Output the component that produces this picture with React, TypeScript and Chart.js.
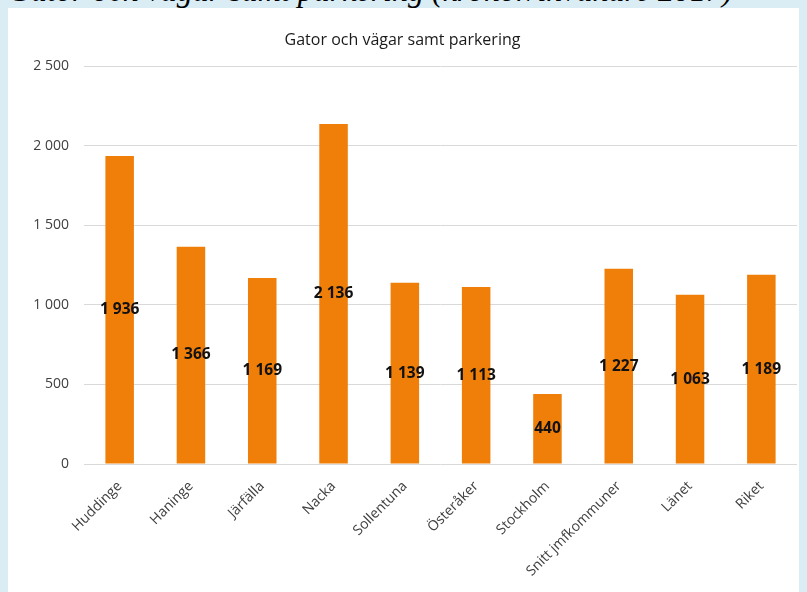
import React, { useEffect, useRef } from "react";
import { Chart, registerables } from "chart.js";

Chart.register(...registerables);

const categories = [
  "Huddinge",
  "Haninge",
  "Järfälla",
  "Nacka",
  "Sollentuna",
  "Österåker",
  "Stockholm",
  "Snitt jmfkommuner",
  "Länet",
  "Riket",
];
const values = [1936, 1366, 1169, 2136, 1139, 1113, 440, 1227, 1063, 1189];
const yTicks = [0, 500, 1000, 1500, 2000, 2500];
const chartTitle = "Gator och vägar samt parkering";
const headingText = "Gator och vägar samt parkering (kronor/invånare 2017)";

const fmt = (n: number) => String(n).replace(/\B(?=(\d{3})+(?!\d))/g, " ");

const FONT = "'Open Sans', 'Noto Sans', sans-serif";

const centerLabels = {
  id: "centerLabels",
  afterDatasetsDraw(chart: any) {
    const ctx = chart.ctx;
    const meta = chart.getDatasetMeta(0);
    ctx.save();
    ctx.font = `bold 15.5px ${FONT}`;
    ctx.fillStyle = "#111111";
    ctx.textAlign = "center";
    ctx.textBaseline = "middle";
    meta.data.forEach((bar: any, i: number) => {
      const { x, y, base } = bar.getProps(["x", "y", "base"], true);
      ctx.fillText(fmt(values[i]), x, (y + base) / 2);
    });
    ctx.restore();
  },
};

export default function App() {
  const ref = useRef<HTMLCanvasElement>(null);

  useEffect(() => {
    if (!ref.current) return;
    const chart = new Chart(ref.current, {
      type: "bar",
      data: {
        labels: categories,
        datasets: [
          {
            data: values,
            backgroundColor: "#F07F09",
            borderWidth: 0,
            barPercentage: 0.5,
            categoryPercentage: 0.8,
          },
        ],
      },
      options: {
        animation: false,
        responsive: false,
        devicePixelRatio: 1,
        layout: { padding: { left: 0, right: 2, top: 0, bottom: 0 } },
        plugins: {
          legend: { display: false },
          tooltip: { enabled: false },
          title: {
            display: true,
            text: chartTitle,
            color: "#1a1a1a",
            font: { family: FONT, size: 16, weight: "normal" },
            padding: { top: 23, bottom: 16 },
          },
        },
        scales: {
          x: {
            grid: { display: false },
            border: { display: false },
            ticks: {
              color: "#404040",
              font: { family: FONT, size: 14 },
              minRotation: 45,
              maxRotation: 45,
              padding: 6,
              autoSkip: false,
            },
            afterFit: (s: any) => {
              s.height = 128;
            },
          },
          y: {
            min: 0,
            max: 2500,
            afterBuildTicks: (s: any) => {
              s.ticks = yTicks.map((v) => ({ value: v }));
            },
            grid: { color: "#d9d9d9", drawTicks: false, lineWidth: 1 },
            border: { display: false },
            ticks: {
              color: "#404040",
              font: { family: FONT, size: 14 },
              padding: 15,
              callback: (v: any) => fmt(Number(v)),
            },
            afterFit: (s: any) => {
              s.width = 76;
            },
          },
        },
      },
      plugins: [centerLabels],
    });
    return () => chart.destroy();
  }, []);

  return (
    <div
      style={{
        position: "absolute",
        left: 0,
        top: 0,
        width: 807,
        height: 592,
        overflow: "hidden",
        background: "#DAEDF4",
      }}
    >
      <div
        style={{
          position: "absolute",
          left: 8,
          top: -26,
          whiteSpace: "nowrap",
          fontFamily: "'Liberation Serif', 'Times New Roman', serif",
          fontStyle: "italic",
          fontSize: 32,
          lineHeight: "32px",
          color: "#000",
        }}
      >
        {headingText}
      </div>
      <div
        style={{
          position: "absolute",
          left: 8,
          top: 8,
          width: 791,
          height: 584,
          background: "#ffffff",
        }}
      >
        <canvas ref={ref} width={791} height={584} style={{ display: "block" }} />
      </div>
    </div>
  );
}
